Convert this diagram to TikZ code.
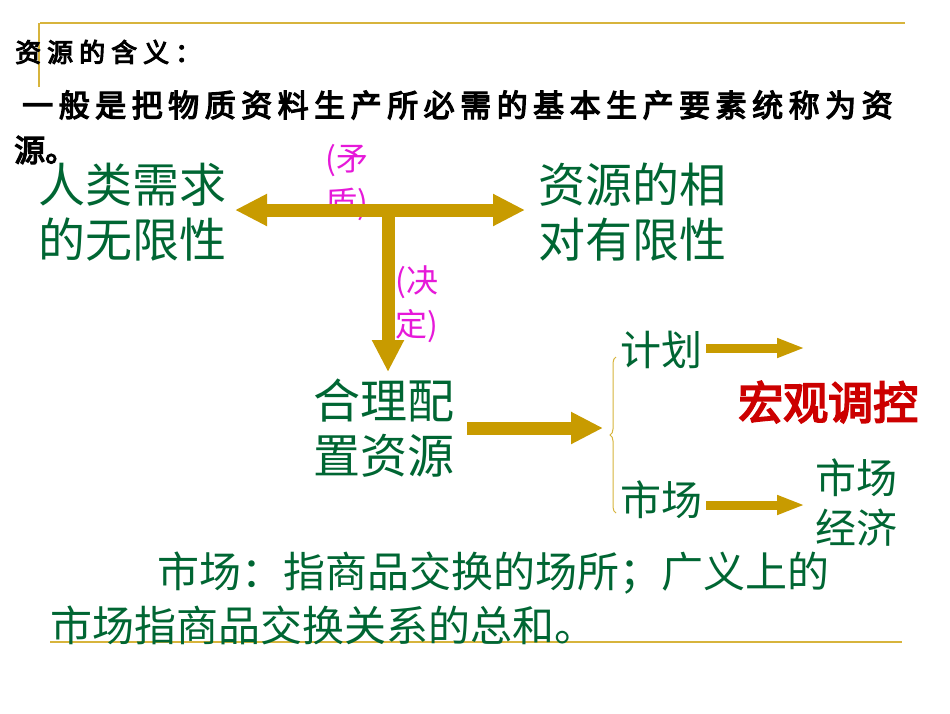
\documentclass[tikz,border=0pt]{standalone}
\usepackage{fontspec}
\usetikzlibrary{arrows.meta,decorations.pathreplacing}
\newfontfamily\cjk{Noto Sans CJK SC}
\newfontfamily\cjkb[FakeBold=4]{Noto Sans CJK SC}
\definecolor{dkgreen}{RGB}{0,102,51}
\definecolor{gold}{RGB}{200,155,0}
\definecolor{goldline}{RGB}{215,180,60}
\definecolor{mag}{RGB}{230,25,217}
\definecolor{dred}{RGB}{204,0,0}
\tikzset{
  big/.style={text=dkgreen,font=\cjk\fontsize{47}{55}\selectfont,inner sep=0pt,anchor=west,align=left},
  mid/.style={text=dkgreen,font=\cjk\fontsize{41}{50}\selectfont,inner sep=0pt,anchor=west,align=left},
  paren/.style={text=mag,font=\cjk\fontsize{32}{44}\selectfont,inner sep=0pt,anchor=west,align=left},
  fat/.style={draw=gold,line width=13pt,-{Triangle[width=30pt,length=32pt]}},
  fatboth/.style={draw=gold,line width=13pt,{Triangle[width=30pt,length=32pt]}-{Triangle[width=30pt,length=32pt]}},
  slim/.style={draw=gold,line width=9pt,-{Triangle[width=18pt,length=28pt]}},
  rule/.style={draw=goldline,line width=2pt}
}
\begin{document}
\begin{tikzpicture}[x=1pt,y=-1pt]
\useasboundingbox[fill=white] (0,0) rectangle (950,713);
\draw[rule] (40,23) -- (905,23);
\draw[rule] (39,23) -- (39,87);
\draw[rule] (50,642) -- (902,642);
\node[anchor=west,inner sep=0pt,font=\cjkb\fontsize{26}{30}\selectfont] (t1) at (15,52) {资\hspace{6pt}源\hspace{6pt}的\hspace{6pt}含\hspace{6pt}义\hspace{6pt}：};
\node[anchor=west,inner sep=0pt,font=\cjkb\fontsize{31}{36}\selectfont] (t2) at (22,105) {一\hspace{5.5pt}般\hspace{5.5pt}是\hspace{5.5pt}把\hspace{5.5pt}物\hspace{5.5pt}质\hspace{5.5pt}资\hspace{5.5pt}料\hspace{5.5pt}生\hspace{5.5pt}产\hspace{5.5pt}所\hspace{5.5pt}必\hspace{5.5pt}需\hspace{5.5pt}的\hspace{5.5pt}基\hspace{5.5pt}本\hspace{5.5pt}生\hspace{5.5pt}产\hspace{5.5pt}要\hspace{5.5pt}素\hspace{5.5pt}统\hspace{5.5pt}称\hspace{5.5pt}为\hspace{5.5pt}资};
\node[anchor=west,inner sep=0pt,font=\cjkb\fontsize{31}{36}\selectfont] (t3) at (14,150) {源。};
\node[big] (need) at (38,212) {人类需求\\的无限性};
\node[big] (res) at (538,212) {资源的相\\对有限性};
\node[paren] (mao) at (325,183) {(矛\\盾)};
\node[big] (alloc) at (313,428) {合理配\\置资源};
\node[paren] (jue) at (395,304) {(决\\定)};
\node[mid] (plan) at (620,350) {计划};
\node[mid] (mkt) at (620,500) {市场};
\node[anchor=west,inner sep=0pt,text=dred,font=\cjkb\fontsize{45}{50}\selectfont] (macro) at (738,402) {宏观调控};
\node[mid] (econ) at (815,503) {市场\\经济};
\node[anchor=west,inner sep=0pt,text=dkgreen,font=\cjk\fontsize{42}{48}\selectfont] (def1) at (157,573) {市场：指商品交换的场所；广义上的};
\node[anchor=west,inner sep=0pt,text=dkgreen,font=\cjk\fontsize{42}{48}\selectfont] (def2) at (50,625) {市场指商品交换关系的总和。};
\coordinate (hl) at (235,210);
\coordinate (hr) at (525,210);
\coordinate (vt) at (388,217);
\coordinate (vb) at (388,372);
\coordinate (ma) at (467,428);
\coordinate (mb) at (603,428);
\draw[fatboth] (hl) -- (hr);
\draw[fat] (vt) -- (vb);
\draw[fat] (ma) -- (mb);
\draw[slim] (706,348) coordinate (pa) -- (805,348) coordinate (pb);
\draw[slim] (706,505) coordinate (qa) -- (805,505) coordinate (qb);
\draw[draw=goldline,line width=1pt,decorate,decoration={brace,amplitude=6pt}] (616,513) -- (616,357);
\end{tikzpicture}
\end{document}
